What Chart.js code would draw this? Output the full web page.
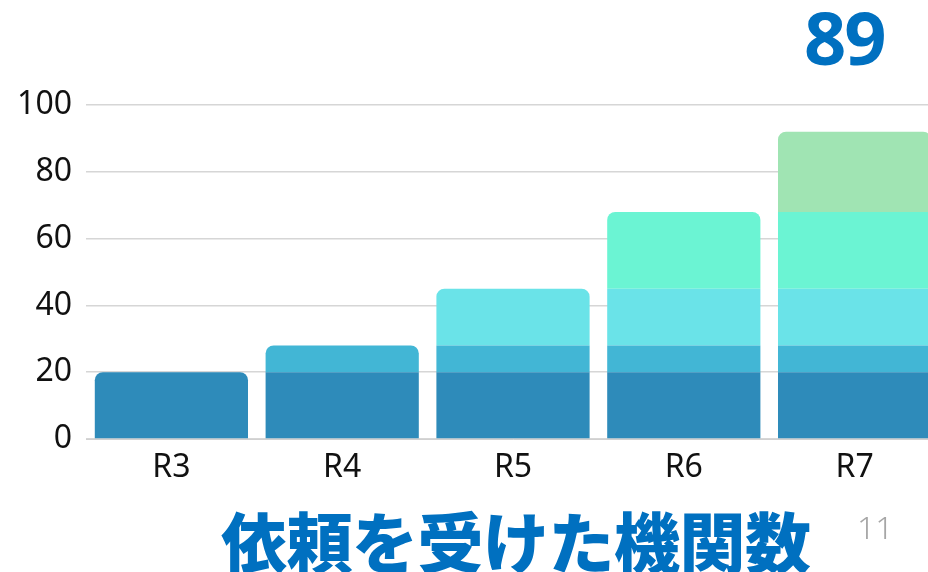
<!DOCTYPE html>
<html>
<head>
<meta charset="utf-8">
<script src="https://cdn.jsdelivr.net/npm/chart.js@4/dist/chart.umd.min.js"></script>
<style>
  html, body { margin: 0; padding: 0; background: #fff; }
  #wrap { position: relative; width: 928px; height: 572px; overflow: hidden; }
  #chart { position: absolute; left: 0; top: 0; }
  #big { position: absolute; left: 804px; top: 0px; font: bold 74px "Noto Sans", sans-serif; line-height: 1; color: #0070C0; letter-spacing: -2px; }
  #caption { position: absolute; left: 221px; top: 506px; font: 900 66px "Noto Sans CJK JP", sans-serif; line-height: 1; color: #0070C0; letter-spacing: -0.5px; white-space: nowrap; }
  #page { position: absolute; left: 857px; top: 511px; font: 300 32px "Noto Sans", sans-serif; line-height: 1; color: #a6a6a6; }
</style>
</head>
<body>
<div id="wrap">
  <canvas id="chart" width="940" height="500"></canvas>
  <div id="big">89</div>
  <div id="caption">依頼を受けた機関数</div>
  <div id="page">11</div>
</div>
<script>
// 年度ラベル
const years = ['R3', 'R4', 'R5', 'R6', 'R7'];
// 各年度の積み上げ値（新しく加わった分）
const layer1 = [20, 20, 20, 20, 20];
const layer2 = [null, 8, 8, 8, 8];
const layer3 = [null, null, 17, 17, 17];
const layer4 = [null, null, null, 23, 23];
const layer5 = [null, null, null, null, 24];
const yTicks = [0, 20, 40, 60, 80, 100];

const layers = [layer1, layer2, layer3, layer4, layer5];
const colors = ['#2E8BBA', '#42B6D5', '#6AE3E8', '#6BF4D3', '#A0E4B3'];

// 一番上の段だけ角を丸める
function topRadius(ctx) {
  const i = ctx.dataIndex;
  for (let d = ctx.datasetIndex + 1; d < layers.length; d++) {
    if (layers[d][i]) return 0;
  }
  return { topLeft: 8, topRight: 8, bottomLeft: 0, bottomRight: 0 };
}

const font = '"Noto Sans", sans-serif';

new Chart(document.getElementById('chart').getContext('2d'), {
  type: 'bar',
  data: {
    labels: years,
    datasets: layers.map((vals, k) => ({
      label: 'layer' + (k + 1),
      data: vals,
      backgroundColor: colors[k],
      borderWidth: 0,
      borderRadius: topRadius,
      borderSkipped: 'start',
      categoryPercentage: 0.897,
      barPercentage: 1
    }))
  },
  options: {
    responsive: false,
    animation: false,
    layout: { padding: { top: 105, right: 0, bottom: 0, left: 0 } },
    plugins: {
      legend: { display: false },
      tooltip: { enabled: false }
    },
    scales: {
      x: {
        stacked: true,
        grid: { display: false, drawTicks: false },
        border: { display: true, color: '#d0d0d0', width: 1 },
        ticks: { color: '#111', font: { family: '"Liberation Sans Narrow", "Noto Sans", sans-serif', size: 32 }, padding: 10 },
        afterFit: (s) => { s.height = 61; }
      },
      y: {
        stacked: true,
        min: 0,
        max: 100,
        afterBuildTicks: (s) => { s.ticks = yTicks.map(v => ({ value: v })); },
        grid: { color: '#d6d6d6', lineWidth: 1.5, drawTicks: false },
        border: { display: false },
        ticks: { color: '#111', font: { family: font, size: 32 }, padding: 14 },
        afterFit: (s) => { s.width = 86; }
      }
    }
  }
});
</script>
</body>
</html>
